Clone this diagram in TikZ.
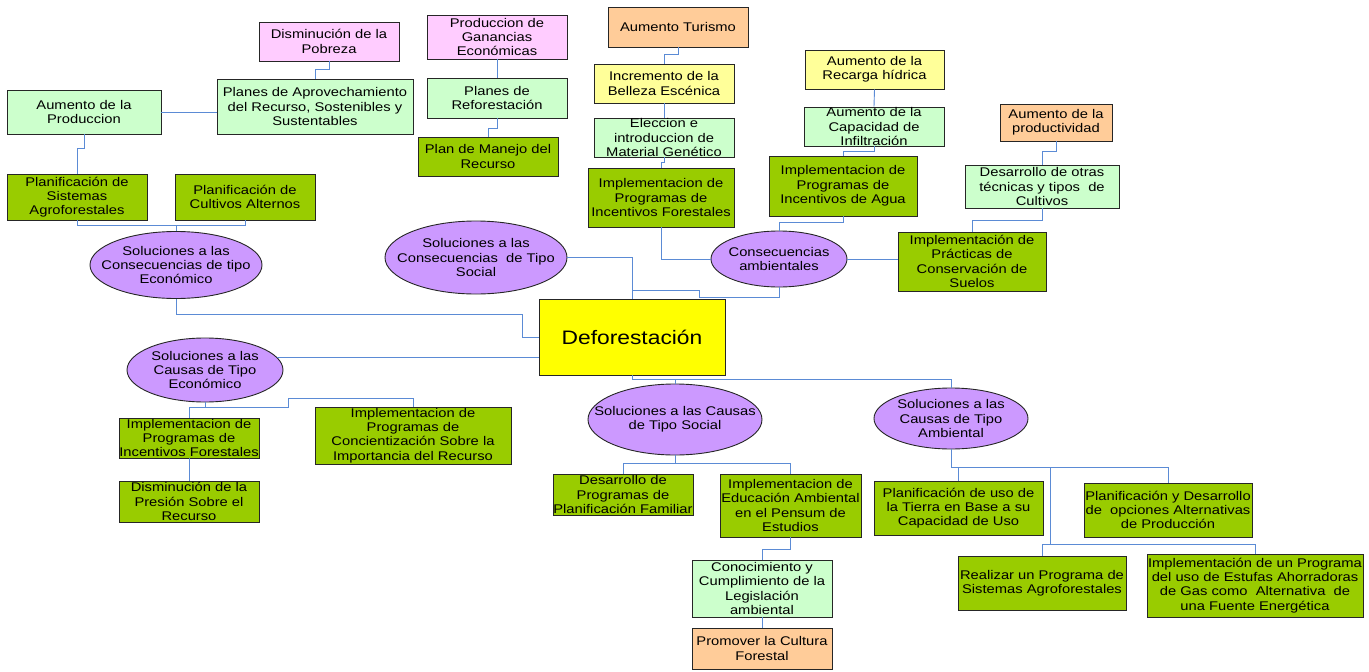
\documentclass[tikz,border=0pt]{standalone}
\usepackage{fontspec}
\setmainfont{Liberation Sans}[FakeStretch=1.17]
\usetikzlibrary{shapes.geometric}
\definecolor{pinkc}{HTML}{FFCCFF}
\definecolor{lgreenc}{HTML}{CCFFCC}
\definecolor{greenc}{HTML}{99CC00}
\definecolor{orangec}{HTML}{FFCC99}
\definecolor{lyellowc}{HTML}{FFFF99}
\definecolor{ovalc}{HTML}{CC99FF}
\definecolor{yellowc}{HTML}{FFFF00}
\definecolor{linkc}{HTML}{5B8BD5}
\begin{document}
\begin{tikzpicture}[x=1pt,y=-1pt,
  txt/.style={font=\fontsize{12.6}{14.3}\selectfont, align=center},
  sz/.style 2 args={minimum width=#1pt, minimum height=#2pt},
  bx/.style={txt, rectangle, draw=black!85, line width=0.9pt, inner sep=0pt},
  pinkbox/.style={bx, fill=pinkc},
  lgbox/.style={bx, fill=lgreenc},
  gbox/.style={bx, fill=greenc},
  orbox/.style={bx, fill=orangec},
  lybox/.style={bx, fill=lyellowc},
  oval/.style={ellipse, draw=black!85, line width=0.9pt, fill=ovalc, inner sep=0pt},
  link/.style={draw=linkc, line width=0.9pt},
]
\useasboundingbox (0,0) rectangle (1369,672);

% ---------- upper left branch ----------
\node[pinkbox, sz={140}{39}] (pob) at (329,41.5) {Disminución de la\\Pobreza};
\node[lgbox, sz={196}{55}] (planes) at (315,106.5) {Planes de Aprovechamiento\\del Recurso, Sostenibles y\\Sustentables};
\node[lgbox, sz={154}{44}] (prod) at (84,112) {Aumento de la\\Produccion};
\node[gbox, sz={140}{46}] (sisag) at (77,197) {Planificación de\\Sistemas\\Agroforestales};
\node[gbox, sz={140}{46}] (cultalt) at (245,197) {Planificación de\\Cultivos Alternos};
\node[oval, sz={172}{67}, label={[txt]center:Soluciones a las\\Consecuencias de tipo\\Económico}] (cecon) at (176,265) {};

% ---------- upper middle branches ----------
\node[pinkbox, sz={140}{44}] (ganan) at (497,37) {Produccion de\\Ganancias\\Económicas};
\node[lgbox, sz={140}{40}] (refor) at (497,98) {Planes de\\Reforestación};
\node[gbox, sz={140}{39}] (manejo) at (488,156.5) {Plan de Manejo del\\Recurso};
\node[oval, sz={182}{73}, label={[txt]center:Soluciones a las\\Consecuencias\ \ de Tipo\\Social}] (csoc) at (476,257.5) {};

\node[orbox, sz={140}{40}] (turismo) at (678,27) {Aumento Turismo};
\node[lybox, sz={140}{39}] (belleza) at (664,83.5) {Incremento de la\\Belleza Escénica};
\node[lgbox, sz={140}{39}] (genet) at (664,137.5) {Eleccion e\\introduccion de\\Material Genético};
\node[gbox, sz={146}{59}] (incfor) at (661,197.5) {Implementacion de\\Programas de\\Incentivos Forestales};

\node[lybox, sz={139}{39}] (recarga) at (874.5,69.5) {Aumento de la\\Recarga hídrica};
\node[lgbox, sz={140}{39}] (infil) at (874,126.5) {Aumento de la\\Capacidad de\\Infiltración};
\node[gbox, sz={148}{60}] (agua) at (843,186) {Implementacion de\\Programas de\\Incentivos de Agua};
\node[oval, sz={136}{56}, label={[txt]center:Consecuencias\\ambientales}] (camb) at (779,259) {};

\node[orbox, sz={112}{37}] (productiv) at (1056,122.5) {Aumento de la\\productividad};
\node[lgbox, sz={154}{43}] (tecnicas) at (1042,186.5) {Desarrollo de otras\\técnicas y tipos\ \ de\\Cultivos};
\node[gbox, sz={148}{59}] (suelos) at (972,261.5) {Implementación de\\Prácticas de\\Conservación de\\Suelos};

% ---------- central node ----------
\node[bx, fill=yellowc, sz={186}{76}, font=\fontsize{19.5}{23}\selectfont] (defo) at (632,337) {Deforestación};

% ---------- lower left branch ----------
\node[oval, sz={156}{64}, label={[txt]center:Soluciones a las\\Causas de Tipo\\Económico}] (caecon) at (205,370) {};
\node[gbox, sz={140}{40}] (incfor2) at (189,438) {Implementacion de\\Programas de\\Incentivos Forestales};
\node[gbox, sz={140}{41}] (presion) at (189,501.5) {Disminución de la\\Presión Sobre el\\Recurso};
\node[gbox, sz={196}{57}] (concien) at (413,435.5) {Implementacion de\\Programas de\\Concientización Sobre la\\Importancia del Recurso};

% ---------- lower middle branch ----------
\node[oval, sz={174}{71}, label={[txt]center:Soluciones a las Causas\\de Tipo Social}] (casoc) at (675,419.5) {};
\node[gbox, sz={140}{41}] (famil) at (623,494.5) {Desarrollo de\\Programas de\\Planificación Familiar};
\node[gbox, sz={141}{63}] (educ) at (790.5,505.5) {Implementacion de\\Educación Ambiental\\en el Pensum de\\Estudios};
\node[lgbox, sz={140}{57}] (legis) at (762,588.5) {Conocimiento y\\Cumplimiento de la\\Legislación\\ambiental};
\node[orbox, sz={140}{41}] (cultura) at (762,648.5) {Promover la Cultura\\Forestal};

% ---------- lower right branch ----------
\node[oval, sz={154}{61}, label={[txt]center:Soluciones a las\\Causas de Tipo\\Ambiental}] (caamb) at (951,418.5) {};
\node[gbox, sz={169}{54}] (tierra) at (958.5,508) {Planificación de uso de\\la Tierra en Base a su\\Capacidad de Uso};
\node[gbox, sz={168}{54}] (altprod) at (1168,510) {Planificación y Desarrollo\\de\ \ opciones Alternativas\\de Producción};
\node[gbox, sz={168}{54}] (realizar) at (1042,583) {Realizar un Programa de\\Sistemas Agroforestales};
\node[gbox, sz={216}{63}] (estufas) at (1255,585.5) {Implementación de un Programa\\del uso de Estufas Ahorradoras\\de Gas como\ \ Alternativa\ \ de\\una Fuente Energética};

% ---------- connectors ----------
\path[link] (pob.south) -- ++(0,8) -| (planes.north);
\path[link] (prod.east) -- (prod.east -| planes.west);
\path[link] (prod.south) -- ++(0,14) -| (sisag.north);
\path[link] (sisag.south) -- ++(0,5) -| (cultalt.south);
\path[link] (cecon.north) -- ++(0,-6);
\path[link] (cecon.south) -- ++(0,15) -- ++(346,0) |- (defo.west);

\path[link] (ganan.south) -- (refor.north);
\path[link] (refor.south) -- ++(0,10) -| (manejo.north);
\path[link] (csoc.east) -| (defo.north);

\path[link] (turismo.south) -- ++(0,7) -| (belleza.north);
\path[link] (belleza.south) -- (genet.north);
\path[link] (genet.south) -- ++(0,5) -| (incfor.north);
\path[link] (incfor.south) |- (camb.west);

\path[link] (recarga.south) -- (infil.north);
\path[link] (infil.south) -- ++(0,5) -| (agua.north);
\path[link] (agua.south) -- ++(0,6) -| (camb.north);
\path[link] (camb.east) -- (camb.east -| suelos.west);
\path[link] (camb.south) -- ++(0,10) -- ++(-80,0) -- ++(0,-7) -| (defo.north);

\path[link] (productiv.south) -- ++(0,10) -| (tecnicas.north);
\path[link] (tecnicas.south) -- ++(0,12) -| (suelos.north);

\path[link] (caecon.10) -- (caecon.10 -| defo.west);
\path[link] (caecon.south) -- ++(0,5) -| (incfor2.north);
\path[link] (caecon.south) -- ++(0,5) -- ++(83,0) -- ++(0,-9) -| (concien.north);
\path[link] (incfor2.south) -- (presion.north);

\path[link] (defo.south) -- ++(0,4) -| (caamb.north);
\path[link] (casoc.north) -- ++(0,-5);
\path[link] (casoc.south) -- ++(0,8) -| (famil.north);
\path[link] (casoc.south) -- ++(0,8) -| (educ.north);
\path[link] (educ.south) -- ++(0,12) -| (legis.north);
\path[link] (legis.south) -- (cultura.north);

\path[link] (caamb.south) -- ++(0,18) -| (tierra.north);
\path[link] (caamb.south) -- ++(0,18) -| (altprod.north);
\path[link] (caamb.south) -- ++(0,18) -- ++(99,0) -- ++(0,77) -| (realizar.north);
\path[link] (caamb.south) -- ++(0,18) -- ++(99,0) -- ++(0,77) -| (estufas.north);
\end{tikzpicture}
\end{document}
